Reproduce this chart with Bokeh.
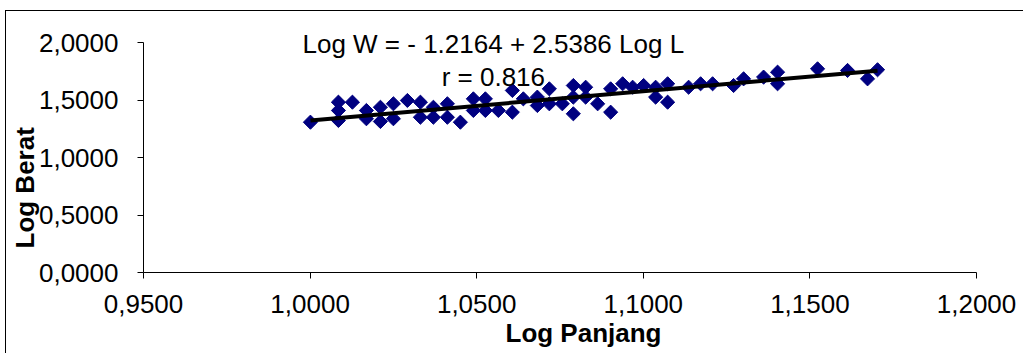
import math
from bokeh.plotting import figure
from bokeh.models import Range1d, FixedTicker, CustomJSTickFormatter, Label, Title, ColumnDataSource
from bokeh.embed import file_html
from bokeh.resources import INLINE

# ---- data ----
log_panjang = [1.0001, 1.0085, 1.0085, 1.0085, 1.0127, 1.0169, 1.0169, 1.0211, 1.0211, 1.0250,
               1.0250, 1.0292, 1.0331, 1.0331, 1.0370, 1.0370, 1.0412, 1.0412, 1.0451, 1.0490,
               1.0490, 1.0526, 1.0526, 1.0565, 1.0607, 1.0607, 1.0640, 1.0682, 1.0682, 1.0718,
               1.0718, 1.0757, 1.0790, 1.0790, 1.0790, 1.0827, 1.0827, 1.0863, 1.0902, 1.0902,
               1.0938, 1.0968, 1.1001, 1.1037, 1.1037, 1.1073, 1.1073, 1.1136, 1.1172, 1.1208,
               1.1271, 1.1301, 1.1361, 1.1403, 1.1403, 1.1523, 1.1613, 1.1673, 1.1703]
log_berat = [1.307, 1.481, 1.409, 1.322, 1.481, 1.409, 1.337, 1.437, 1.313, 1.467,
             1.337, 1.496, 1.481, 1.350, 1.437, 1.350, 1.467, 1.350, 1.307, 1.510,
             1.409, 1.510, 1.409, 1.409, 1.583, 1.394, 1.510, 1.525, 1.452, 1.597,
             1.467, 1.467, 1.626, 1.525, 1.380, 1.611, 1.525, 1.467, 1.597, 1.394,
             1.641, 1.611, 1.626, 1.611, 1.525, 1.641, 1.481, 1.611, 1.641, 1.641,
             1.626, 1.684, 1.699, 1.742, 1.641, 1.771, 1.757, 1.684, 1.763]

intercept = -1.2164
slope = 2.5386
equation_text = "Log W = - 1.2164 + 2.5386 Log L"
r_text = "r = 0.816"

x_ticks = [0.95, 1.00, 1.05, 1.10, 1.15, 1.20]
x_tick_labels = ["0,9500", "1,0000", "1,0500", "1,1000", "1,1500", "1,2000"]
y_ticks = [0.0, 0.5, 1.0, 1.5, 2.0]
y_tick_labels = ["0,0000", "0,5000", "1,0000", "1,5000", "2,0000"]
x_title = "Log Panjang"
y_title = "Log Berat"

# ---- figure ----
FONT = "Liberation Sans"
p = figure(width=1018, height=343, output_backend="svg", toolbar_location=None,
           x_range=Range1d(0.95, 1.20), y_range=Range1d(0.0, 2.0),
           min_border_left=137, min_border_right=48, min_border_top=31, min_border_bottom=82,
           background_fill_color="white", border_fill_color="white")
p.styles = {"box-shadow": "-1px -1px 0 0 #000000",
            "margin-left": "6px", "margin-top": "11px"}
p.outline_line_color = None
p.grid.visible = False

src = ColumnDataSource(dict(x=log_panjang, y=log_berat))
p.scatter("x", "y", source=src, marker="square", size=10, angle=math.pi / 4,
          fill_color="#000080", line_color="#000080")

x0, x1 = min(log_panjang), max(log_panjang)
p.line([x0, x1], [intercept + slope * x0, intercept + slope * x1], line_color="black", line_width=4)

def fmt(tvals, tlabels):
    return CustomJSTickFormatter(args=dict(tvals=tvals, tlabels=tlabels), code="""
        let b = 0;
        for (let i = 0; i < tvals.length; i++) {
            if (Math.abs(tvals[i] - tick) < Math.abs(tvals[b] - tick)) b = i;
        }
        return tlabels[b];
    """)

for ax, tv, tl, standoff in ((p.xaxis[0], x_ticks, x_tick_labels, 16),
                             (p.yaxis[0], y_ticks, y_tick_labels, 19)):
    ax.ticker = FixedTicker(ticks=tv)
    ax.formatter = fmt(tv, tl)
    ax.major_tick_in = 0
    ax.major_tick_out = 6
    ax.minor_tick_line_color = None
    ax.axis_line_color = "black"
    ax.major_tick_line_color = "black"
    ax.major_label_text_font = FONT
    ax.major_label_text_font_size = "26px"
    ax.major_label_text_color = "black"
    ax.major_label_standoff = standoff

# axis titles
p.add_layout(Title(text=x_title, align="left", offset=362, standoff=0,
                   text_font=FONT, text_font_size="26px", text_font_style="bold",
                   text_color="black"), "below")
p.add_layout(Title(text=y_title, align="left", offset=24, standoff=-8,
                   text_font=FONT, text_font_size="26px", text_font_style="bold",
                   text_color="black"), "left")

# regression equation (first line reaches above the frame, so it is a title)
p.add_layout(Title(text=equation_text, align="left", offset=159, standoff=-32,
                   text_font=FONT, text_font_size="26px", text_font_style="normal",
                   text_color="black"), "above")
p.add_layout(Label(x=1.0550, y=1.696, text=r_text, text_font=FONT, text_font_size="26px",
                   text_align="center", text_baseline="alphabetic", text_color="black"))

open("out.html", "w").write(file_html(p, INLINE))
